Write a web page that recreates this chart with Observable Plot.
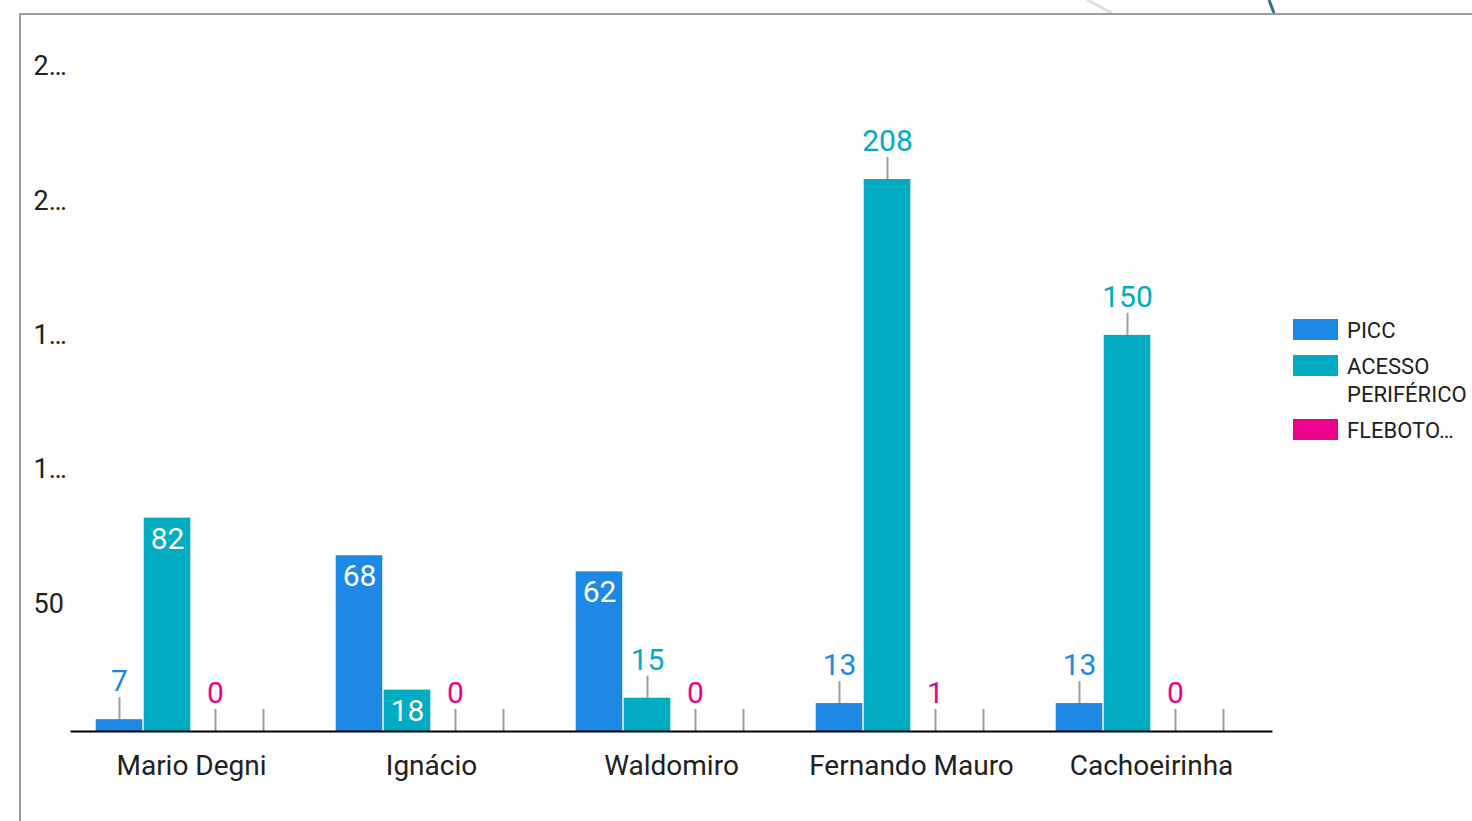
<!DOCTYPE html>
<html>
<head>
<meta charset="utf-8">
<script src="https://cdn.jsdelivr.net/npm/d3@7"></script>
<script src="https://cdn.jsdelivr.net/npm/@observablehq/plot@0.6"></script>
<style>
  body { margin: 0; background: #fff; font-family: Roboto, sans-serif; }
  #wrap { position: relative; width: 1472px; height: 821px; overflow: hidden; background: #fff; }
  #frame { position: absolute; left: 19px; top: 13px; right: -4px; bottom: -4px;
           border-top: 2px solid #9e9e9e; border-left: 2px solid #9e9e9e; }
  #chart { position: absolute; left: 0; top: 0; }
  #deco { position: absolute; left: 0; top: 0; }
  .item { position: absolute; left: 1293px; font: 22px/28px Roboto, sans-serif; color: #212121; }
  .sw { position: absolute; left: 0; top: 2.5px; width: 45px; height: 21px; }
  .lbl { position: absolute; left: 54px; white-space: nowrap; }
</style>
</head>
<body>
<div id="wrap">
  <svg id="deco" width="1472" height="20">
    <line x1="1087" y1="0" x2="1112" y2="13" stroke="#dedede" stroke-width="3"/>
    <line x1="1269" y1="0" x2="1274" y2="13" stroke="#2f6f8f" stroke-width="3"/>
  </svg>
  <div id="frame"></div>
  <div id="chart"></div>
  <div id="legend"></div>
</div>
<script>
// ---- data ----
const categories = ["Mario Degni", "Ignácio", "Waldomiro", "Fernando Mauro", "Cachoeirinha"];
const seriesNames = ["PICC", "ACESSO PERIFÉRICO", "FLEBOTOMIA", "OUTRO"];
const legendLabels = [["PICC"], ["ACESSO", "PERIFÉRICO"], ["FLEBOTO…"]];
const colors = ["#1e88e5", "#00acc1", "#ec008c", "#9e9e9e"];
const picc = [7, 68, 62, 13, 13];
const acesso = [82, 18, 15, 208, 150];
const flebotomia = [0, 0, 0, 1, 0];
const outro = [null, null, null, null, null];
const yTicks = [50, 100, 150, 200, 250];
const yTickLabels = ["50", "1…", "1…", "2…", "2…"];
const yDomain = [2.6, 274.6];

const seriesValues = [picc, acesso, flebotomia, outro];
const rows = categories.flatMap((c, i) =>
  seriesValues.map((vals, j) => ({category: c, series: seriesNames[j], si: j, value: vals[i]}))
);
const isInside = (v) => v != null && v > 16 && v < 100;
const withValue = rows.filter(d => d.value != null);
const outsideRows = rows.filter(d => !isInside(d.value));
const outsideLabeled = withValue.filter(d => !isInside(d.value));
const insideLabeled = withValue.filter(d => isInside(d.value));

const chart = Plot.plot({
  width: 1472,
  height: 821,
  marginLeft: 71,
  marginRight: 201,
  marginTop: 0,
  marginBottom: 90,
  style: {fontFamily: "Roboto, sans-serif", color: "#212121", background: "transparent"},
  fx: {domain: categories, paddingInner: 0.2, paddingOuter: 0.1},
  x: {domain: seriesNames, padding: 0, axis: null},
  y: {domain: yDomain, clamp: true, axis: null},
  color: {domain: seriesNames, range: colors},
  marks: [
    Plot.barY(withValue, {fx: "category", x: "series", y1: 0, y2: "value", fill: "series",
      insetLeft: 0.7, insetRight: 0.7}),
    Plot.ruleX(outsideRows, {fx: "category", x: "series",
      y1: d => d.value ?? 0, y2: d => d.value ?? 0, insetTop: -22, insetBottom: 0,
      stroke: "#9e9e9e", strokeWidth: 2}),
    Plot.frame({anchor: "bottom", facet: "super", stroke: "#000", strokeWidth: 2,
      insetLeft: -24, insetRight: -24}),
    Plot.text(outsideLabeled, {fx: "category", x: "series", y: d => d.value,
      text: d => String(d.value), fill: "series", dy: -38, fontSize: 30, lineAnchor: "middle"}),
    Plot.text(insideLabeled, {fx: "category", x: "series", y: d => d.value,
      text: d => String(d.value), fill: "#fff", dy: 21, fontSize: 30, lineAnchor: "middle"}),
    Plot.axisY({anchor: "left", ticks: yTicks, tickFormat: d => yTickLabels[yTicks.indexOf(d)],
      tickSize: 0, tickPadding: 0, textAnchor: "start", dx: -62, fontSize: 27, label: null,
      fill: "#212121"}),
    Plot.axisFx({anchor: "bottom", tickSize: 0, tickPadding: 24, fontSize: 28, label: null, fill: "#212121"})
  ]
});
document.getElementById("chart").appendChild(chart);

// ---- legend ----
const legend = document.getElementById("legend");
const tops = [316.5, 352.5, 416.5];
legendLabels.forEach((lines, i) => {
  const it = document.createElement("div");
  it.className = "item";
  it.style.top = tops[i] + "px";
  const sw = document.createElement("div");
  sw.className = "sw";
  sw.style.background = colors[i];
  const lb = document.createElement("div");
  lb.className = "lbl";
  lb.innerHTML = lines.join("<br>");
  it.appendChild(sw);
  it.appendChild(lb);
  legend.appendChild(it);
});
</script>
</body>
</html>
